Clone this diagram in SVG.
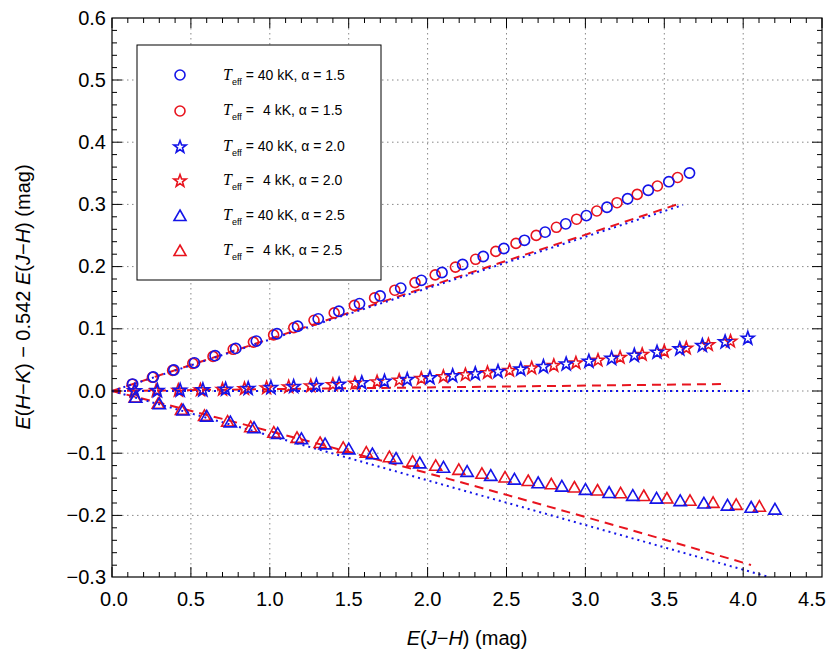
<svg xmlns="http://www.w3.org/2000/svg" xmlns:xlink="http://www.w3.org/1999/xlink" width="830" height="664" viewBox="0 0 830 664">
<style>
text{font-family:"Liberation Sans",Arial,sans-serif;fill:#000}
.tl{font-size:20px}
.lg{font-size:14px}
.grid{stroke:#888;stroke-width:1;stroke-dasharray:1.5 3.5;fill:none}
.tick{stroke:#000;stroke-width:1;fill:none}
.mk{fill:none;stroke-width:1.6}
.rd{stroke:#e8141e;stroke-width:2;stroke-dasharray:9 6;fill:none}
.bd{stroke:#1414e8;stroke-width:2;stroke-dasharray:2 4;fill:none}
</style>
<defs>
<circle id="c" r="5" cx="0" cy="0"/>
<path id="s" d="M0,-6.5 L1.6,-2.1 L6.2,-2 L2.5,0.8 L3.8,5.3 L0,2.6 L-3.8,5.3 L-2.5,0.8 L-6.2,-2 L-1.6,-2.1Z"/>
<path id="t" d="M0,-6 L6,4.5 L-6,4.5Z"/>
<g id="circles">
<use href="#c" x="132.2" y="384.2"/><use href="#c" x="152.4" y="377.3"/><use href="#c" x="172.6" y="370.4"/><use href="#c" x="192.8" y="363.4"/><use href="#c" x="213.0" y="356.4"/><use href="#c" x="233.2" y="349.3"/><use href="#c" x="253.4" y="342.1"/><use href="#c" x="273.6" y="334.9"/><use href="#c" x="293.8" y="327.6"/><use href="#c" x="314.0" y="320.3"/><use href="#c" x="334.2" y="312.9"/><use href="#c" x="354.4" y="305.4"/><use href="#c" x="374.6" y="297.9"/><use href="#c" x="394.8" y="290.2"/><use href="#c" x="415.0" y="282.6"/><use href="#c" x="435.2" y="274.9"/><use href="#c" x="455.4" y="267.1"/><use href="#c" x="475.6" y="259.3"/><use href="#c" x="495.8" y="251.4"/><use href="#c" x="516.0" y="243.4"/><use href="#c" x="536.2" y="235.4"/><use href="#c" x="556.4" y="227.3"/><use href="#c" x="576.6" y="219.2"/><use href="#c" x="596.8" y="211.0"/><use href="#c" x="617.0" y="202.7"/><use href="#c" x="637.2" y="194.4"/><use href="#c" x="657.4" y="186.0"/><use href="#c" x="677.6" y="177.5"/>
</g>
<g id="stars">
<use href="#s" x="134.1" y="390.9"/><use href="#s" x="156.2" y="390.7"/><use href="#s" x="178.3" y="390.4"/><use href="#s" x="200.4" y="390.0"/><use href="#s" x="222.5" y="389.4"/><use href="#s" x="244.5" y="388.7"/><use href="#s" x="266.6" y="387.9"/><use href="#s" x="288.7" y="386.9"/><use href="#s" x="310.8" y="385.9"/><use href="#s" x="332.9" y="384.7"/><use href="#s" x="355.0" y="383.3"/><use href="#s" x="377.1" y="381.9"/><use href="#s" x="399.2" y="380.3"/><use href="#s" x="421.3" y="378.6"/><use href="#s" x="443.4" y="376.7"/><use href="#s" x="465.4" y="374.8"/><use href="#s" x="487.5" y="372.7"/><use href="#s" x="509.6" y="370.5"/><use href="#s" x="531.7" y="368.1"/><use href="#s" x="553.8" y="365.6"/><use href="#s" x="575.9" y="363.0"/><use href="#s" x="598.0" y="360.3"/><use href="#s" x="620.1" y="357.5"/><use href="#s" x="642.2" y="354.5"/><use href="#s" x="664.3" y="351.4"/><use href="#s" x="686.3" y="348.2"/><use href="#s" x="708.4" y="344.8"/><use href="#s" x="730.5" y="341.3"/>
</g>
<g id="tris">
<use href="#t" x="135.1" y="397.5"/><use href="#t" x="158.2" y="403.8"/><use href="#t" x="181.4" y="409.9"/><use href="#t" x="204.5" y="415.9"/><use href="#t" x="227.6" y="421.6"/><use href="#t" x="250.7" y="427.2"/><use href="#t" x="273.8" y="432.7"/><use href="#t" x="297.0" y="437.9"/><use href="#t" x="320.1" y="443.0"/><use href="#t" x="343.2" y="447.9"/><use href="#t" x="366.3" y="452.7"/><use href="#t" x="389.4" y="457.2"/><use href="#t" x="412.6" y="461.6"/><use href="#t" x="435.7" y="465.8"/><use href="#t" x="458.8" y="469.9"/><use href="#t" x="481.9" y="473.8"/><use href="#t" x="505.0" y="477.5"/><use href="#t" x="528.2" y="481.0"/><use href="#t" x="551.3" y="484.3"/><use href="#t" x="574.4" y="487.5"/><use href="#t" x="597.5" y="490.5"/><use href="#t" x="620.6" y="493.3"/><use href="#t" x="643.8" y="496.0"/><use href="#t" x="666.9" y="498.5"/><use href="#t" x="690.0" y="500.8"/><use href="#t" x="713.1" y="502.9"/><use href="#t" x="736.2" y="504.9"/><use href="#t" x="759.4" y="506.7"/>
</g>
</defs>
<rect width="830" height="664" fill="#fff"/>
<g id="grid" class="grid">
<path d="M190.9,18V577M269.8,18V577M348.7,18V577M427.6,18V577M506.5,18V577M585.4,18V577M664.3,18V577M743.2,18V577"/>
<path d="M112,80.0H822M112,142.2H822M112,204.4H822M112,266.6H822M112,328.8H822M112,391H822M112,453.2H822M112,515.4H822"/>
</g>
<g id="connectors">
<path class="rd" d="M112,391 L677,204.5"/>
<path class="bd" d="M112,391 L683,205"/>
<path class="rd" d="M112,391 L727,384"/>
<path class="bd" d="M112,391 L751,391"/>
<path class="rd" d="M112,391 Q430,470 751,565"/>
<path class="bd" d="M112,391 L769,577"/>
</g>
<g id="series-circles-red" class="mk" stroke="#e8141e"><use href="#circles"/></g>
<g id="series-circles-blue" class="mk" stroke="#1414e8"><use href="#circles" transform="translate(112 391) scale(1.021) translate(-112 -391)"/></g>
<g id="series-stars-red" class="mk" stroke="#e8141e"><use href="#stars"/></g>
<g id="series-stars-blue" class="mk" stroke="#1414e8"><use href="#stars" transform="translate(112 391) scale(1.028 1.06) translate(-112 -391)"/></g>
<g id="series-tris-red" class="mk" stroke="#e8141e"><use href="#tris"/></g>
<g id="series-tris-blue" class="mk" stroke="#1414e8"><use href="#tris" transform="translate(112 391) scale(1.024) translate(-112 -391)"/></g>
<g id="axes">
<rect x="112" y="18" width="710" height="559" fill="none" stroke="#000" stroke-width="1.2"/>
<path class="tick" d="M112,577v-10M190.9,577v-10M269.8,577v-10M348.7,577v-10M427.6,577v-10M506.5,577v-10M585.4,577v-10M664.3,577v-10M743.2,577v-10M112,18v10M190.9,18v10M269.8,18v10M348.7,18v10M427.6,18v10M506.5,18v10M585.4,18v10M664.3,18v10M743.2,18v10M822,18v10"/>
<path class="tick" d="M127.8,577v-5M143.6,577v-5M159.3,577v-5M175.1,577v-5M206.7,577v-5M222.5,577v-5M238.2,577v-5M254,577v-5M285.6,577v-5M301.4,577v-5M317.1,577v-5M332.9,577v-5M364.5,577v-5M380.3,577v-5M396,577v-5M411.8,577v-5M443.4,577v-5M459.2,577v-5M474.9,577v-5M490.7,577v-5M522.3,577v-5M538.1,577v-5M553.8,577v-5M569.6,577v-5M601.2,577v-5M617,577v-5M632.7,577v-5M648.5,577v-5M680.1,577v-5M695.9,577v-5M711.6,577v-5M727.4,577v-5M759,577v-5M774.8,577v-5M790.5,577v-5M806.3,577v-5"/>
<path class="tick" d="M127.8,18v5M143.6,18v5M159.3,18v5M175.1,18v5M206.7,18v5M222.5,18v5M238.2,18v5M254,18v5M285.6,18v5M301.4,18v5M317.1,18v5M332.9,18v5M364.5,18v5M380.3,18v5M396,18v5M411.8,18v5M443.4,18v5M459.2,18v5M474.9,18v5M490.7,18v5M522.3,18v5M538.1,18v5M553.8,18v5M569.6,18v5M601.2,18v5M617,18v5M632.7,18v5M648.5,18v5M680.1,18v5M695.9,18v5M711.6,18v5M727.4,18v5M759,18v5M774.8,18v5M790.5,18v5M806.3,18v5"/>
<path class="tick" d="M112,80h10M112,142.2h10M112,204.4h10M112,266.6h10M112,328.8h10M112,391h10M112,453.2h10M112,515.4h10M822,80h-10M822,142.2h-10M822,204.4h-10M822,266.6h-10M822,328.8h-10M822,391h-10M822,453.2h-10M822,515.4h-10"/>
<path class="tick" d="M112,30.4h5M112,42.9h5M112,55.3h5M112,67.6h5M112,92.4h5M112,104.9h5M112,117.3h5M112,129.8h5M112,154.6h5M112,167.1h5M112,179.5h5M112,192h5M112,216.8h5M112,229.3h5M112,241.7h5M112,254.2h5M112,279h5M112,291.5h5M112,303.9h5M112,316.4h5M112,341.2h5M112,353.7h5M112,366.1h5M112,378.6h5M112,403.4h5M112,415.9h5M112,428.3h5M112,440.8h5M112,465.6h5M112,478.1h5M112,490.5h5M112,503h5M112,527.8h5M112,540.3h5M112,552.7h5M112,565.2h5"/>
<path class="tick" d="M822,30.4h-5M822,42.9h-5M822,55.3h-5M822,67.6h-5M822,92.4h-5M822,104.9h-5M822,117.3h-5M822,129.8h-5M822,154.6h-5M822,167.1h-5M822,179.5h-5M822,192h-5M822,216.8h-5M822,229.3h-5M822,241.7h-5M822,254.2h-5M822,279h-5M822,291.5h-5M822,303.9h-5M822,316.4h-5M822,341.2h-5M822,353.7h-5M822,366.1h-5M822,378.6h-5M822,403.4h-5M822,415.9h-5M822,428.3h-5M822,440.8h-5M822,465.6h-5M822,478.1h-5M822,490.5h-5M822,503h-5M822,527.8h-5M822,540.3h-5M822,552.7h-5M822,565.2h-5"/>
</g>
<g id="xlabels" class="tl" text-anchor="middle">
<text x="114" y="606">0.0</text><text x="190.9" y="606">0.5</text><text x="269.8" y="606">1.0</text><text x="348.7" y="606">1.5</text><text x="427.6" y="606">2.0</text><text x="506.5" y="606">2.5</text><text x="585.4" y="606">3.0</text><text x="664.3" y="606">3.5</text><text x="743.2" y="606">4.0</text><text x="812" y="606">4.5</text>
</g>
<g id="ylabels" class="tl" text-anchor="end">
<text x="106" y="25">0.6</text><text x="106" y="87">0.5</text><text x="106" y="149">0.4</text><text x="106" y="211">0.3</text><text x="106" y="273">0.2</text><text x="106" y="335">0.1</text><text x="106" y="398">0.0</text><text x="106" y="460">−0.1</text><text x="106" y="522">−0.2</text><text x="106" y="584">−0.3</text>
</g>
<text id="xtitle" class="tl" x="467" y="645" text-anchor="middle"><tspan font-style="italic">E</tspan>(<tspan font-style="italic">J</tspan>−<tspan font-style="italic">H</tspan>) (mag)</text>
<text id="ytitle" class="tl" transform="translate(30 297) rotate(-90)" text-anchor="middle"><tspan font-style="italic">E</tspan>(<tspan font-style="italic">H</tspan>−<tspan font-style="italic">K</tspan>) − 0.542 <tspan font-style="italic">E</tspan>(<tspan font-style="italic">J</tspan>−<tspan font-style="italic">H</tspan>) (mag)</text>
<g id="legend">
<rect x="137" y="45" width="244" height="235" fill="#fff" stroke="#000" stroke-width="1"/>
<g class="mk">
<use href="#c" x="180" y="75" stroke="#1414e8"/>
<use href="#c" x="180" y="111" stroke="#e8141e"/>
<use href="#s" x="180" y="147" stroke="#1414e8"/>
<use href="#s" x="180" y="181" stroke="#e8141e"/>
<use href="#t" x="180" y="216" stroke="#1414e8"/>
<use href="#t" x="180" y="251" stroke="#e8141e"/>
</g>
<g class="lg">
<text x="223" y="80"><tspan font-style="italic" font-family="Liberation Serif,serif" font-size="16">T</tspan><tspan font-size="9" dy="5">eff</tspan><tspan dy="-5"> = 40 kK, α = 1.5</tspan></text>
<text x="223" y="115"><tspan font-style="italic" font-family="Liberation Serif,serif" font-size="16">T</tspan><tspan font-size="9" dy="5">eff</tspan><tspan dy="-5"> =</tspan><tspan x="263">4 kK, α = 1.5</tspan></text>
<text x="223" y="151"><tspan font-style="italic" font-family="Liberation Serif,serif" font-size="16">T</tspan><tspan font-size="9" dy="5">eff</tspan><tspan dy="-5"> = 40 kK, α = 2.0</tspan></text>
<text x="223" y="185"><tspan font-style="italic" font-family="Liberation Serif,serif" font-size="16">T</tspan><tspan font-size="9" dy="5">eff</tspan><tspan dy="-5"> =</tspan><tspan x="263">4 kK, α = 2.0</tspan></text>
<text x="223" y="220"><tspan font-style="italic" font-family="Liberation Serif,serif" font-size="16">T</tspan><tspan font-size="9" dy="5">eff</tspan><tspan dy="-5"> = 40 kK, α = 2.5</tspan></text>
<text x="223" y="255"><tspan font-style="italic" font-family="Liberation Serif,serif" font-size="16">T</tspan><tspan font-size="9" dy="5">eff</tspan><tspan dy="-5"> =</tspan><tspan x="263">4 kK, α = 2.5</tspan></text>
</g>
</g>
</svg>
